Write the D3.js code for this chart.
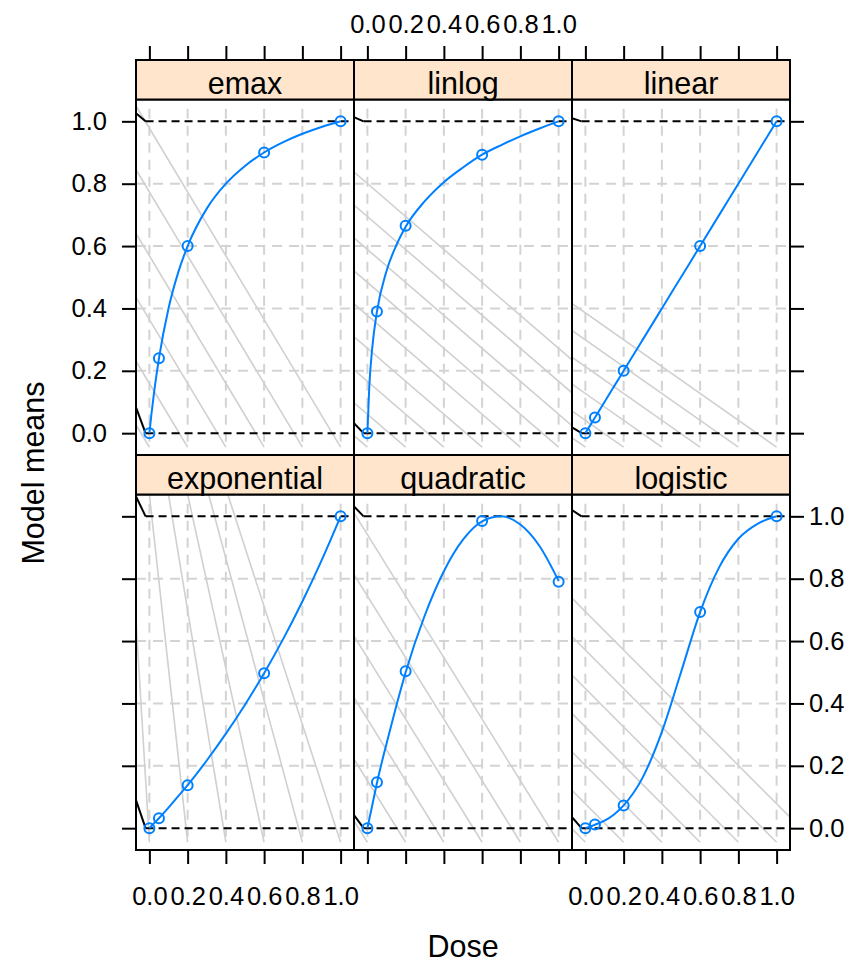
<!DOCTYPE html>
<html>
<head>
<meta charset="utf-8">
<style>
  body { margin: 0; background: white; }
  svg { font-family: "Liberation Sans", Arial, sans-serif; }
  .axis .domain { display: none; }
  .axis .tick line { stroke: black; stroke-width: 2px; }
  .axis .tick text { font-size: 25.5px; fill: black; }
</style>
</head>
<body>
<svg width="860" height="963"></svg>
<script src="https://d3js.org/d3.v7.min.js"></script>
<script>
// ---- data ----
const models = ["emax", "linlog", "linear", "exponential", "quadratic", "logistic"];
const doses = [0, 0.05, 0.2, 0.6, 1];
const doseTicks = [0, 0.2, 0.4, 0.6, 0.8, 1.0];
const meanTicks = [0, 0.2, 0.4, 0.6, 0.8, 1.0];

// model means at the doses (circles)
const meansEmax = [0, 0.24, 0.6, 0.9, 1.0];
const meansLinlog = [0, 0.39, 0.665, 0.893, 1.0];
const meansLinear = [0, 0.05, 0.2, 0.6, 1.0];
const meansExponential = [0, 0.032, 0.138, 0.497, 1.0];
const meansQuadratic = [0, 0.147, 0.503, 0.985, 0.79];
const meansLogistic = [0, 0.012, 0.073, 0.693, 1.0];

// the blue curves, read at these doses
const curveDoses = [0, 0.01, 0.025, 0.05, 0.1, 0.15, 0.2, 0.3, 0.4, 0.5, 0.6, 0.7, 0.8, 0.9, 1];
const curveEmax = [0, 0.057, 0.133, 0.24, 0.4, 0.514, 0.6, 0.72, 0.8, 0.857, 0.9, 0.933, 0.96, 0.982, 1];
const curveLinlog = [0, 0.15, 0.271, 0.39, 0.52, 0.601, 0.662, 0.744, 0.805, 0.852, 0.893, 0.924, 0.952, 0.977, 1];
const curveLinear = [0, 0.01, 0.025, 0.05, 0.1, 0.15, 0.2, 0.3, 0.4, 0.5, 0.6, 0.7, 0.8, 0.9, 1];
const curveExponential = [0, 0.006, 0.016, 0.032, 0.066, 0.102, 0.138, 0.217, 0.303, 0.396, 0.497, 0.607, 0.727, 0.858, 1];
const curveQuadratic = [0, 0.029, 0.072, 0.145, 0.271, 0.389, 0.5, 0.682, 0.824, 0.925, 0.984, 1.0, 0.974, 0.905, 0.793];
const curveLogistic = [0, 0.002, 0.005, 0.011, 0.024, 0.044, 0.073, 0.163, 0.309, 0.5, 0.693, 0.837, 0.928, 0.976, 1];

// light grey diagonal lines: [dose at the bottom, dose at the top]
const hatchEmax = [[0, -1.09], [0.2, -0.89], [0.4, -0.69], [0.6, -0.49], [0.8, -0.29], [1, -0.09]];
const hatchLinlog = [[0, -2.11], [0.2, -1.91], [0.4, -1.71], [0.6, -1.51], [0.8, -1.31], [1, -1.11], [1.2, -0.91], [1.4, -0.71], [1.6, -0.51]];
const hatchLinear = [[0, -2.59], [0.2, -2.39], [0.4, -2.19], [0.6, -1.99], [0.8, -1.79], [1, -1.59]];
const hatchExponential = [[0, -0.11], [0.2, 0], [0.4, 0.1], [0.6, 0.2], [0.8, 0.31], [1, 0.41]];
const hatchQuadratic = [[0, -1.13], [0.2, -0.93], [0.4, -0.73], [0.6, -0.53], [0.8, -0.33], [1, -0.13]];
const hatchLogistic = [[0, -1.81], [0.2, -1.61], [0.4, -1.41], [0.6, -1.21], [0.8, -1.01], [1, -0.81], [1.2, -0.61]];

// the black reference lines at 0 and 1 start with a short slant (rise in mean units)
const refLevels = [0, 1];
const leadTop = [0.026, 0.013, 0.01, 0.064, 0.032, 0.02];
const leadBottom = [0.083, 0.032, 0.019, 0.09, 0.042, 0.035];

const means = [meansEmax, meansLinlog, meansLinear, meansExponential, meansQuadratic, meansLogistic];
const curves = [curveEmax, curveLinlog, curveLinear, curveExponential, curveQuadratic, curveLogistic];
const hatches = [hatchEmax, hatchLinlog, hatchLinear, hatchExponential, hatchQuadratic, hatchLogistic];

// ---- layout ----
let colX = [136, 354, 572];
let rowTop = [60, 455];
let panelW = 218;
let stripH = 39.5;
let panelH = 355.5;

let svg = d3.select("svg");

let x = d3.scaleLinear().domain([-0.07, 1.07]).range([0, panelW]);
let y = d3.scaleLinear().domain([-0.07, 1.07]).range([panelH, 0]);

let line = d3.line()
    .x(d => x(d[0]))
    .y(d => y(d[1]))
    .curve(d3.curveMonotoneX);

models.forEach(function (name, i) {
    let col = i % 3;
    let row = Math.floor(i / 3);
    let px = colX[col];
    let sy = rowTop[row];
    let py = sy + stripH;

    let g = svg.append("g").attr("transform", `translate(${px},${py})`);

    svg.append("clipPath").attr("id", "clip" + i)
        .append("rect").attr("width", panelW).attr("height", panelH);

    let inner = g.append("g").attr("clip-path", `url(#clip${i})`);

    // grid
    inner.selectAll(".vgrid").data(doseTicks).join("line")
        .attr("x1", d => x(d)).attr("x2", d => x(d))
        .attr("y1", y(1.04)).attr("y2", y(-0.045))
        .style("stroke", "#d3d3d3").style("stroke-width", 2)
        .style("stroke-dasharray", "10,7");
    inner.selectAll(".hgrid").data(meanTicks.slice(1, 5)).join("line")
        .attr("x1", 0).attr("x2", panelW)
        .attr("y1", d => y(d)).attr("y2", d => y(d))
        .style("stroke", "#d3d3d3").style("stroke-width", 2)
        .style("stroke-dasharray", "10,7");

    // diagonal grey lines
    inner.selectAll(".hatch").data(hatches[i]).join("line")
        .attr("x1", d => x(d[0])).attr("y1", y(-0.045))
        .attr("x2", d => x(d[1])).attr("y2", y(1.07))
        .style("stroke", "#d0d0d0").style("stroke-width", 1.6);

    // reference lines at 0 and 1
    refLevels.forEach(function (lv) {
        let lead = lv === 0 ? leadBottom[i] : leadTop[i];
        inner.append("line")
            .attr("x1", x(-0.07)).attr("y1", y(lv + lead))
            .attr("x2", x(-0.02)).attr("y2", y(lv))
            .style("stroke", "black").style("stroke-width", 2);
        inner.append("line")
            .attr("x1", x(-0.02)).attr("y1", y(lv))
            .attr("x2", panelW).attr("y2", y(lv))
            .style("stroke", "black").style("stroke-width", 2)
            .style("stroke-dasharray", "8,5");
    });

    // curve
    inner.append("path")
        .attr("d", line(curveDoses.map((d, k) => [d, curves[i][k]])))
        .style("fill", "none").style("stroke", "#0080ff").style("stroke-width", 2);

    // points
    inner.selectAll(".pt").data(doses.map((d, k) => [d, means[i][k]])).join("circle")
        .attr("cx", d => x(d[0])).attr("cy", d => y(d[1]))
        .attr("r", 5)
        .style("fill", "none").style("stroke", "#0080ff").style("stroke-width", 2);

    // panel border
    g.append("rect").attr("width", panelW).attr("height", panelH)
        .style("fill", "none").style("stroke", "black").style("stroke-width", 2);

    // strip
    svg.append("rect").attr("x", px).attr("y", sy).attr("width", panelW).attr("height", stripH)
        .style("fill", "#ffe5cc").style("stroke", "black").style("stroke-width", 2);
    svg.append("text").text(name)
        .attr("x", px + panelW / 2).attr("y", sy + 34)
        .attr("text-anchor", "middle")
        .attr("font-size", "30.5px");

    // axes
    if (row === 0) {
        svg.append("g").attr("class", "axis")
            .attr("transform", `translate(${px},${sy})`)
            .call(d3.axisTop(x).tickValues(doseTicks).tickSize(14).tickPadding(13)
                .tickFormat(col === 1 ? d3.format(".1f") : () => ""));
    } else {
        svg.append("g").attr("class", "axis")
            .attr("transform", `translate(${px},${py + panelH})`)
            .call(d3.axisBottom(x).tickValues(doseTicks).tickSize(14).tickPadding(23)
                .tickFormat(col !== 1 ? d3.format(".1f") : () => ""));
    }
    if (col === 0) {
        svg.append("g").attr("class", "axis")
            .attr("transform", `translate(${px},${py})`)
            .call(d3.axisLeft(y).tickValues(meanTicks).tickSize(14).tickPadding(15)
                .tickFormat(row === 0 ? d3.format(".1f") : () => ""));
    }
    if (col === 2) {
        svg.append("g").attr("class", "axis")
            .attr("transform", `translate(${px + panelW},${py})`)
            .call(d3.axisRight(y).tickValues(meanTicks).tickSize(14).tickPadding(5)
                .tickFormat(row === 1 ? d3.format(".1f") : () => ""));
    }
});

// axis titles
svg.append("text").text("Dose")
    .attr("x", 463).attr("y", 957)
    .attr("text-anchor", "middle")
    .attr("font-size", "30.5px");

svg.append("text").text("Model means")
    .attr("transform", "translate(44,473) rotate(-90)")
    .attr("text-anchor", "middle")
    .attr("font-size", "30.5px");
</script>
</body>
</html>
